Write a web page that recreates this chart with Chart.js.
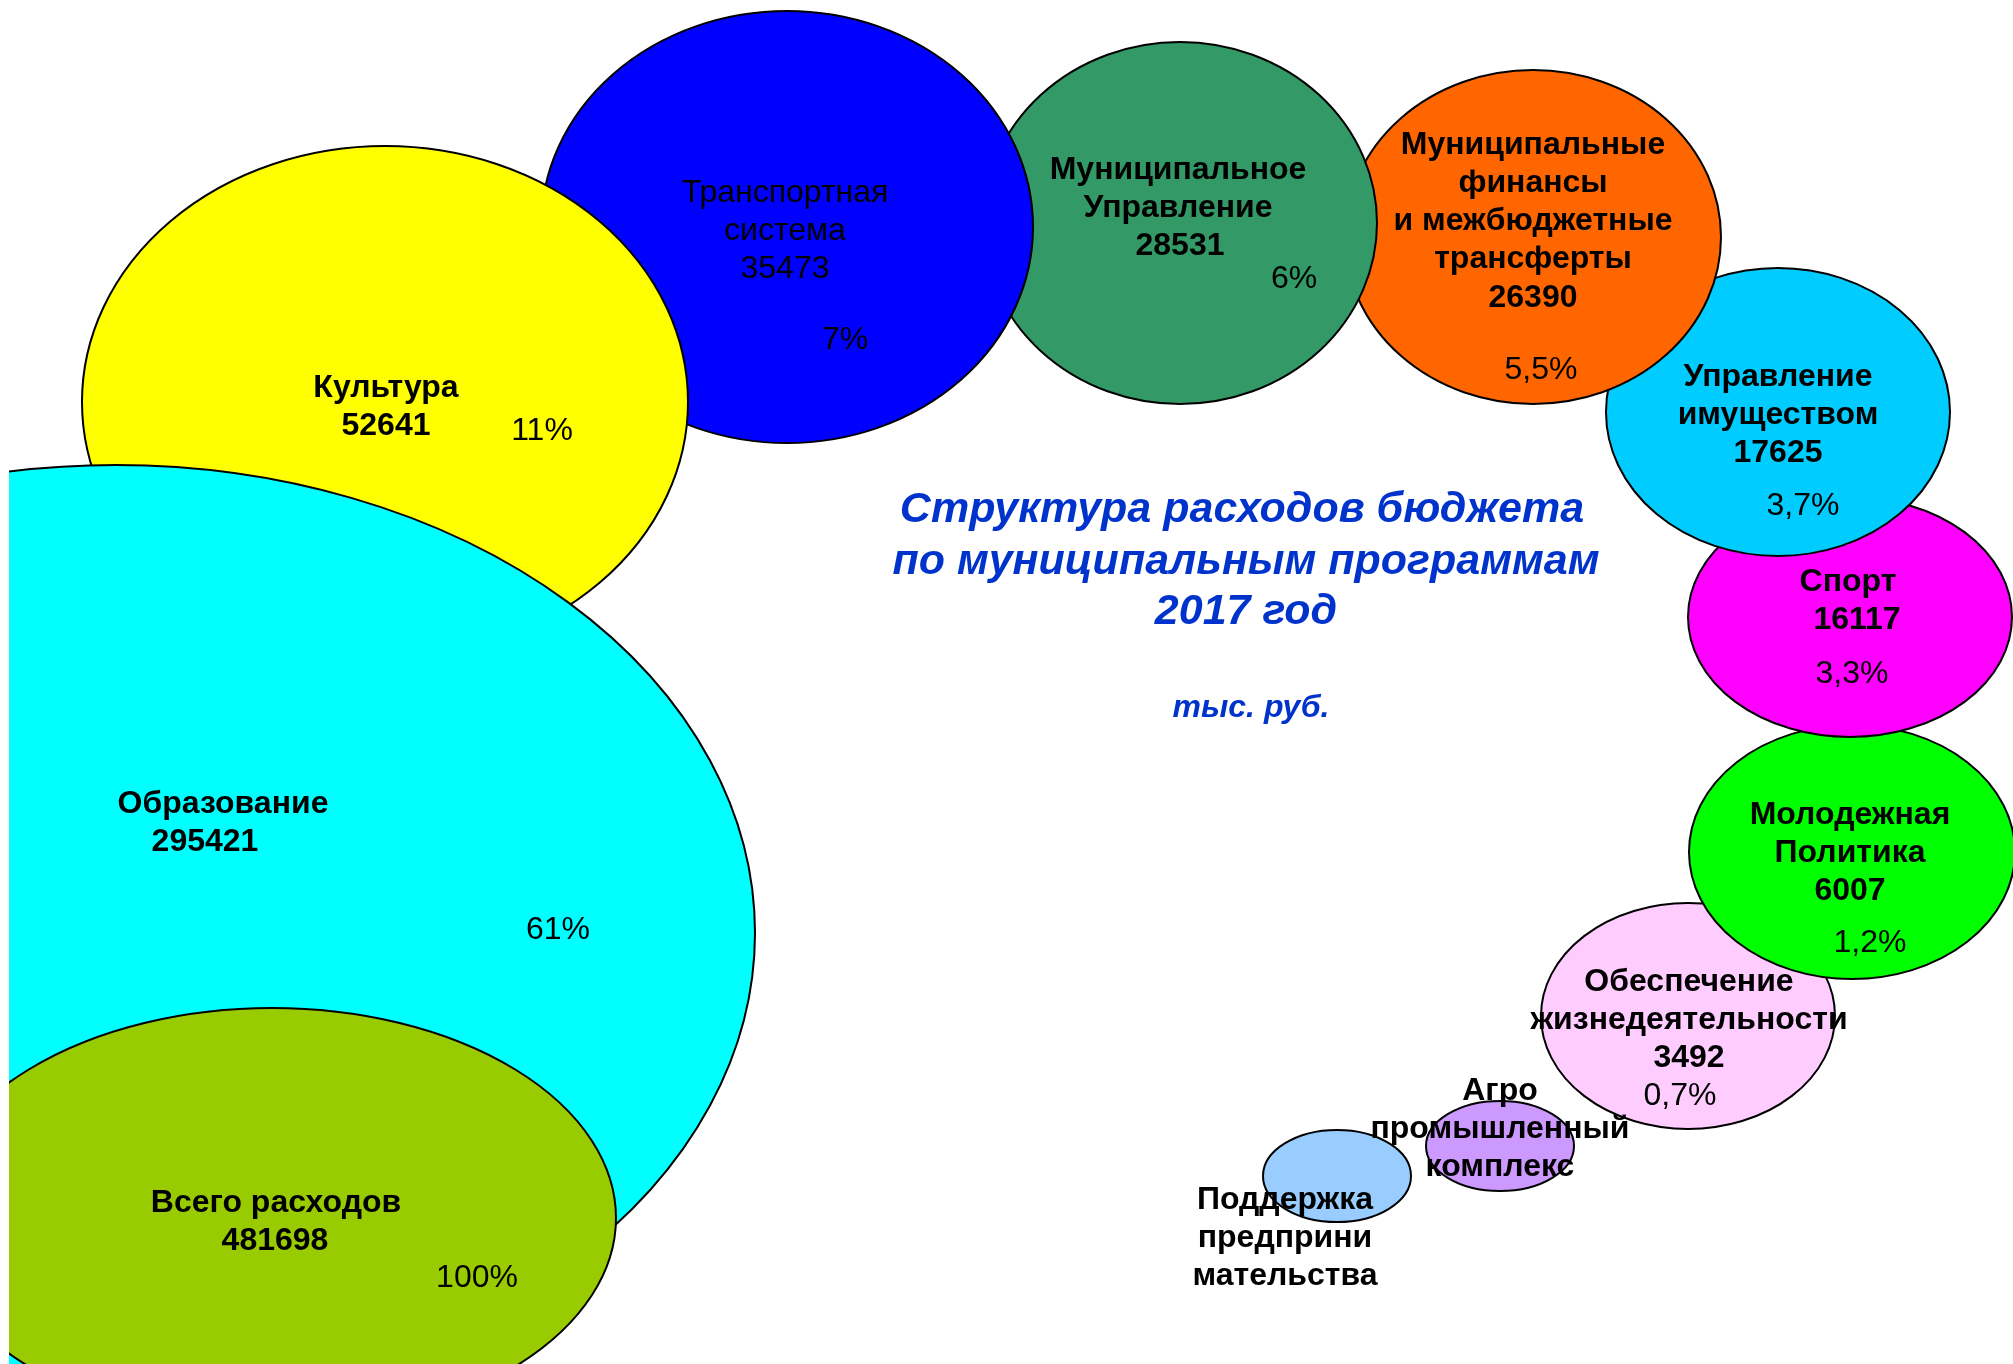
<!DOCTYPE html>
<html>
<head>
<meta charset="utf-8">
<script src="https://cdn.jsdelivr.net/npm/chart.js@4.4.1/dist/chart.umd.min.js"></script>
<style>
    html, body { margin: 0; padding: 0; background: #fff; }
    #wrap { width: 2013px; height: 1364px; }
</style>
</head>
<body>
<div id="wrap"><canvas id="chart" width="2013" height="1364"></canvas></div>
<script>
// программы (строки подписи), суммы тыс. руб. и доли
const categories = [
    ['Всего расходов'],
    ['Образование'],
    ['Культура'],
    ['Транспортная', 'система'],
    ['Муниципальное', 'Управление'],
    ['Муниципальные', 'финансы', 'и межбюджетные', 'трансферты'],
    ['Управление', 'имуществом'],
    ['Спорт'],
    ['Молодежная', 'Политика'],
    ['Обеспечение', 'жизнедеятельности'],
    ['Агро', 'промышленный', 'комплекс'],
    ['Поддержка', 'предприни', 'мательства']
];
const amounts = [481698, 295421, 52641, 35473, 28531, 26390, 17625, 16117, 6007, 3492, null, null];
const shares = ['100%', '61%', '11%', '7%', '6%', '5,5%', '3,7%', '3,3%', '1,2%', '0,7%', '', ''];

// центры и полуоси эллипсов (в единицах осей)
const bubbleX = [272, 116, 385, 787, 1180, 1533, 1778, 1850, 1852, 1688, 1500, 1337];
const bubbleY = [1218, 933, 402, 227, 223, 237, 412, 617, 852, 1016, 1146, 1176];
const bubbleW = [344, 639, 303, 246, 197, 188, 172, 162, 163, 147, 74, 74];
const bubbleH = [210, 468, 256, 216, 181, 167, 144, 120, 127, 113, 45, 46];

const titleLines = ['Структура расходов бюджета', 'по муниципальным программам', '2017 год'];
const unitsText = 'тыс. руб.';

const colors = ['#99CC00', '#00FFFF', '#FFFF00', '#0000FF', '#339966', '#FF6600',
                '#00CCFF', '#FF00FF', '#00FF00', '#FFCCFF', '#CC99FF', '#99CCFF'];

// где стоят подписи внутри пузырей
const labelLayout = [
    { x: 276, y: 1203, vx: 275, px: 477, py: 1278 },
    { x: 223, y: 804, vx: 205, px: 558, py: 930 },
    { x: 386, y: 388, px: 542, py: 431 },
    { x: 785, y: 193, px: 845, py: 340, plain: true },
    { x: 1178, y: 170, vx: 1180, px: 1294, py: 279 },
    { x: 1533, y: 145, px: 1541, py: 370 },
    { x: 1778, y: 377, px: 1803, py: 506 },
    { x: 1848, y: 582, vx: 1857, px: 1852, py: 674 },
    { x: 1850, y: 815, px: 1870, py: 943 },
    { x: 1689, y: 982, px: 1680, py: 1096 },
    { x: 1500, y: 1091 },
    { x: 1285, y: 1200 }
];
const LINE_GAP = 38.2;
const FONT = '"Liberation Sans", Arial, sans-serif';

// пузырь-эллипс: тот же bubble, но полуоси по x и y свои
class EllipseBubbleController extends Chart.BubbleController {
    draw() {
        const meta = this._cachedMeta;
        const ds = this.getDataset();
        const ctx = this.chart.ctx;
        const xs = meta.xScale, ys = meta.yScale;
        // мелкие снизу, крупные поверх
        for (let i = meta.data.length - 1; i >= 0; i--) {
            const pt = meta.data[i];
            const d = ds.data[i];
            const rx = Math.abs(xs.getPixelForValue(d.x + d.w) - pt.x);
            const ry = Math.abs(ys.getPixelForValue(d.y + d.h) - pt.y);
            ctx.save();
            ctx.beginPath();
            ctx.ellipse(pt.x, pt.y, rx, ry, 0, 0, Math.PI * 2);
            ctx.fillStyle = ds.backgroundColor[i];
            ctx.fill();
            ctx.lineWidth = ds.borderWidth;
            ctx.strokeStyle = ds.borderColor;
            ctx.stroke();
            ctx.restore();
        }
    }
}
EllipseBubbleController.id = 'ellipseBubble';
EllipseBubbleController.defaults = Chart.BubbleController.defaults;
EllipseBubbleController.overrides = Chart.BubbleController.overrides;
Chart.register(EllipseBubbleController);

const labelsPlugin = {
    id: 'bubbleLabels',
    afterDatasetsDraw(chart) {
        const ctx = chart.ctx;
        const xs = chart.scales.x, ys = chart.scales.y;
        ctx.save();
        ctx.textAlign = 'center';
        ctx.textBaseline = 'middle';
        ctx.fillStyle = '#000';

        categories.forEach((lines, i) => {
            const lay = labelLayout[i];
            const weight = lay.plain ? 'normal' : 'bold';
            ctx.font = `${weight} 32px ${FONT}`;
            lines.forEach((txt, k) => {
                ctx.fillText(txt, xs.getPixelForValue(lay.x), ys.getPixelForValue(lay.y + k * LINE_GAP));
            });
            if (amounts[i] !== null) {
                const vx = lay.vx !== undefined ? lay.vx : lay.x;
                ctx.fillText(String(amounts[i]), xs.getPixelForValue(vx),
                    ys.getPixelForValue(lay.y + lines.length * LINE_GAP));
            }
            if (shares[i]) {
                ctx.font = `normal 32px ${FONT}`;
                ctx.fillText(shares[i], xs.getPixelForValue(lay.px), ys.getPixelForValue(lay.py));
            }
        });

        // заголовок в середине дуги
        ctx.fillStyle = '#0033CC';
        ctx.font = `italic bold 43px ${FONT}`;
        const titleY = [510, 562, 612];
        const titleX = [1242, 1246, 1246];
        titleLines.forEach((t, k) => {
            ctx.fillText(t, xs.getPixelForValue(titleX[k]), ys.getPixelForValue(titleY[k]));
        });
        ctx.font = `italic bold 32px ${FONT}`;
        ctx.fillText(unitsText, xs.getPixelForValue(1251), ys.getPixelForValue(708));
        ctx.restore();
    }
};

const points = amounts.map((v, i) => ({
    x: bubbleX[i], y: bubbleY[i], r: 0, w: bubbleW[i], h: bubbleH[i]
}));

new Chart(document.getElementById('chart'), {
    type: 'ellipseBubble',
    data: {
        datasets: [{
            label: 'Расходы',
            data: points,
            backgroundColor: colors,
            borderColor: '#000',
            borderWidth: 2,
            clip: 0
        }]
    },
    options: {
        responsive: false,
        animation: false,
        devicePixelRatio: 1,
        layout: { padding: { left: 9, top: 0, right: 0, bottom: 0 } },
        scales: {
            x: { type: 'linear', min: 9, max: 2013, display: false },
            y: { type: 'linear', min: 0, max: 1364, reverse: true, display: false }
        },
        plugins: {
            legend: { display: false },
            tooltip: { enabled: false },
            title: { display: false }
        }
    },
    plugins: [labelsPlugin]
});
</script>
</body>
</html>
